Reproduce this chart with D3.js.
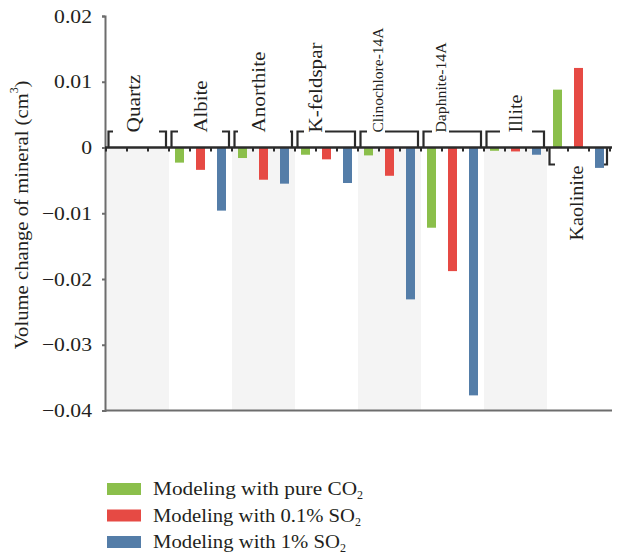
<!DOCTYPE html>
<html><head><meta charset="utf-8">
<script src="https://cdn.jsdelivr.net/npm/d3@7"></script>
<style>body{margin:0;background:#fff}svg{display:block}text{font-family:"Liberation Serif","DejaVu Serif",serif;fill:#231f20}</style>
</head><body><svg id="c" width="632" height="556"></svg>
<script>
const categories = ["Quartz","Albite","Anorthite","K-feldspar","Clinochlore-14A","Daphnite-14A","Illite","Kaolinite"];
const seriesNames = ["Modeling with pure CO2","Modeling with 0.1% SO2","Modeling with 1% SO2"];
const pureCO2  = [0, -0.0023, -0.0016, -0.0011, -0.0012, -0.0122, -0.0005, 0.0088];
const so2_01   = [0, -0.0034, -0.0049, -0.0018, -0.0043, -0.0188, -0.0006, 0.0121];
const so2_1    = [0, -0.0096, -0.0055, -0.0054, -0.0231, -0.0377, -0.0011, -0.0031];
const yTicks   = [0.02, 0.01, 0, -0.01, -0.02, -0.03, -0.04];
const colors   = ["#8bbf4b", "#e64a44", "#547da8"];

// layout (annotation geometry, not data)
const labelDx   = [-4, 0, -5, -11, -11, -11, 0, -2];
const labelLen  = [58, 52, 81, 90, 105, 90, 38, 75];
const labelSize = [19, 19, 19, 19, 14, 14, 19, 19];
const gapStart  = [7, 9, 6, 9, 9, 11, 16, 8];
const gapEnd    = [53, 53, 58, 30, 27, 28, 48, 57];
const legendLen = [204, 202, 187];
const stretch = 1.14;

const svg = d3.select("#c");
const x = d3.scaleBand().domain(categories).range([106, 610]).padding(0);
const xs = d3.scaleBand().domain([0,1,2]).range([0, x.bandwidth()]).paddingInner(12/21).paddingOuter(6/21);
const y = d3.scaleLinear().domain([-0.04, 0.02]).range([410.5, 16]);
const data = [pureCO2, so2_01, so2_1];

// shaded bands
svg.append("g").selectAll("rect").data(categories.filter((d,i)=>i%2===0)).join("rect")
  .attr("x", d=>x(d)).attr("width", x.bandwidth()).attr("y", y(0)).attr("height", y(-0.04)-y(0))
  .attr("fill", "#f4f4f4");

// bars
categories.forEach((c, ci) => {
  svg.append("g").selectAll("rect").data(data.map((s, si) => ({si, v: s[ci]}))).join("rect")
    .attr("x", d => x(c) + xs(d.si)).attr("width", xs.bandwidth())
    .attr("y", d => y(Math.max(0, d.v))).attr("height", d => Math.abs(y(d.v) - y(0)))
    .attr("fill", d => colors[d.si]);
});

// y axis
const ya = svg.append("g").attr("transform", "translate(105,0)")
  .call(d3.axisLeft(y).tickValues(yTicks).tickSize(3).tickPadding(10)
    .tickFormat(d => d === 0 ? "0" : d3.format(".2f")(d).replace("-", "\u2212")));
ya.select(".domain").attr("stroke", "#6d6d6d").attr("stroke-width", 2);
ya.selectAll(".tick line").attr("stroke", "#6d6d6d").attr("stroke-width", 2);
ya.selectAll(".tick text").attr("font-size", 19).attr("font-family", "Liberation Serif").attr("fill", "#231f20")
  .each(function(){ const w = this.getComputedTextLength(); d3.select(this).attr("textLength", w*stretch).attr("lengthAdjust","spacingAndGlyphs"); });

// bottom frame line
svg.append("line").attr("x1", 105).attr("x2", 612).attr("y1", y(-0.04)).attr("y2", y(-0.04))
  .attr("stroke", "#6d6d6d").attr("stroke-width", 2);

// zero line with ticks
const zeroY = y(0);
const tickXs = d3.range(0, categories.length * 3 + 1).map(k => 106 + k * xs.step());
svg.append("g").selectAll("line").data(tickXs).join("line")
  .attr("x1", d=>d).attr("x2", d=>d).attr("y1", zeroY).attr("y2", zeroY + 4)
  .attr("stroke", "#2b2b2b").attr("stroke-width", 2);
svg.append("line").attr("x1", 105).attr("x2", 612).attr("y1", zeroY).attr("y2", zeroY)
  .attr("stroke", "#2b2b2b").attr("stroke-width", 2.5);

// brackets and labels
const bg = svg.append("g").attr("fill", "none").attr("stroke", "#2b2b2b").attr("stroke-width", 2.2);
categories.forEach((c, i) => {
  const x0 = x(c) + 2.5, x1 = x(c) + x.bandwidth() - 3;
  const above = i < 7;
  const yb = above ? zeroY - 16 : zeroY + 17;
  bg.append("path").attr("d",
    `M${x0},${zeroY}V${yb}H${x(c)+gapStart[i]}M${x(c)+gapEnd[i]},${yb}H${x1}V${zeroY}`);
  const cx = x(c) + x.bandwidth()/2 + labelDx[i];
  const ly = above ? zeroY - 15 : zeroY + 18;
  svg.append("text")
    .attr("transform", `translate(${cx},${ly}) rotate(-90)`)
    .attr("text-anchor", above ? "start" : "end")
    .attr("dominant-baseline", "central")
    .attr("font-size", labelSize[i])
    .attr("textLength", labelLen[i]).attr("lengthAdjust", "spacingAndGlyphs")
    .text(c);
});

// y title
const yt = svg.append("text").attr("transform", "translate(21,215) rotate(-90)")
  .attr("text-anchor", "middle").attr("dominant-baseline", "central").attr("font-size", 19.5);
const yt1 = yt.append("tspan").text("Volume change of mineral (cm");
yt.append("tspan").attr("font-size", 12).attr("dy", -7).text("3");
yt.append("tspan").attr("dy", 7).text(")");
yt1.attr("textLength", 256).attr("lengthAdjust", "spacingAndGlyphs");

// legend
const lg = svg.append("g").attr("transform", "translate(107,483)");
seriesNames.forEach((s, i) => {
  const g = lg.append("g").attr("transform", `translate(0,${i*26.5})`);
  g.append("rect").attr("width", 34).attr("height", 12).attr("fill", colors[i]);
  const t = g.append("text").attr("x", 46).attr("y", 12).attr("font-size", 19.5);
  const base = s.replace(/(CO|SO)2$/, "$1");
  t.append("tspan").text(base).attr("textLength", legendLen[i]).attr("lengthAdjust", "spacingAndGlyphs");
  t.append("tspan").attr("font-size", 12).attr("dy", 4).text("2");
});
</script></body></html>
